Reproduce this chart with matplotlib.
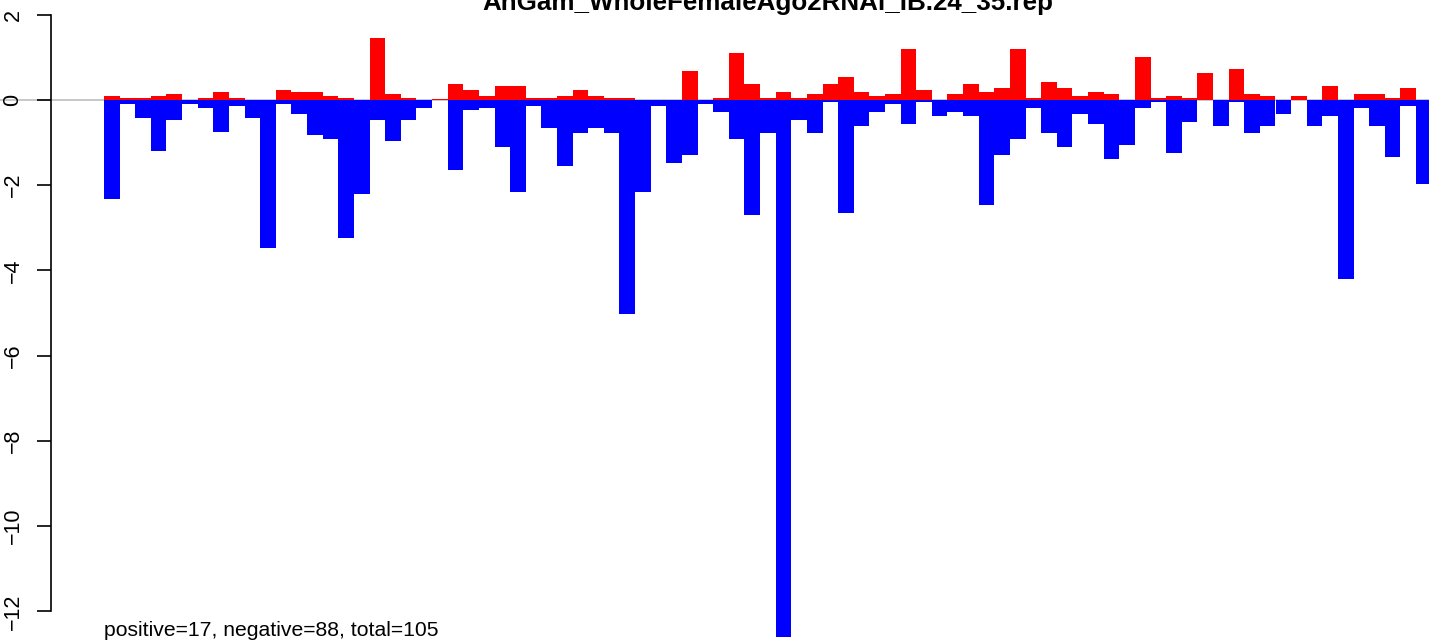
import matplotlib
matplotlib.use("Agg")
import matplotlib.pyplot as plt
import matplotlib.transforms as mtransforms

plt.rcParams['font.family'] = ['Liberation Sans', 'DejaVu Sans']

title = "AnGam_WholeFemaleAgo2RNAi_IB.24_35.rep"
note = "positive=17, negative=88, total=105"

# values, one per position
pos_vals = [0.09, 0.05, 0.05, 0.09, 0.14, 0, 0.05, 0.19, 0.05, 0, 0, 0.24, 0.19, 0.19, 0.09,
            0.05, 0, 1.46, 0.14, 0.05, 0, 0.03, 0.38, 0.24, 0.09, 0.33, 0.33, 0.05, 0.05, 0.09,
            0.24, 0.09, 0.05, 0.05, 0, 0, 0, 0.68, 0, 0.05, 1.11, 0.38, 0.05, 0.19, 0.05,
            0.14, 0.38, 0.54, 0.19, 0.09, 0.14, 1.20, 0.24, 0, 0.14, 0.38, 0.19, 0.28, 1.20, 0.05,
            0.42, 0.28, 0.09, 0.19, 0.14, 0, 1.01, 0.05, 0.09, 0.05, 0.64, 0, 0.73, 0.14, 0.09,
            0, 0.09, 0, 0.33, 0, 0.14, 0.14, 0.05, 0.28, 0]
neg_vals = [-2.33, -0.09, -0.42, -1.19, -0.46, -0.09, -0.18, -0.75, -0.13, -0.42, -3.47, -0.09, -0.32, -0.82, -0.91,
            -3.24, -2.20, -0.46, -0.96, -0.46, -0.18, -0.01, -1.64, -0.23, -0.18, -1.10, -2.16, -0.13, -0.65, -1.55,
            -0.77, -0.65, -0.77, -5.03, -2.16, -0.13, -1.47, -1.29, -0.09, -0.27, -0.91, -2.70, -0.77, -12.6, -0.46,
            -0.77, -0.04, -2.65, -0.60, -0.27, -0.09, -0.56, -0.04, -0.37, -0.27, -0.37, -2.46, -1.29, -0.91, -0.18,
            -0.77, -1.10, -0.32, -0.56, -1.38, -1.05, -0.18, -0.04, -1.24, -0.51, -0.01, -0.60, -0.04, -0.77, -0.60,
            -0.32, 0, -0.60, -0.37, -4.21, -0.18, -0.60, -1.33, -0.13, -1.97]
yticks = [2, 0, -2, -4, -6, -8, -10, -12]

W, H = 1429, 641
bar_px = 15.62      # pixels per bar
x0_px = 104         # left edge of first bar
unit_px = 42.62     # pixels per y unit
zero_px = 100       # y pixel of zero
axis_px = 51        # x pixel of y axis line

fig = plt.figure(figsize=(W / 100, H / 100), dpi=100)
ax = fig.add_axes([0, 0, 1, 1])
ax.set_xlim(-x0_px / bar_px, (W - x0_px) / bar_px)
ax.set_ylim(-(H - zero_px) / unit_px, zero_px / unit_px)

idx = list(range(len(pos_vals)))
ax.axhline(0, color='#BEBEBE', lw=1.2, zorder=0.5)
ax.bar(idx, pos_vals, width=1, align='edge', color='#FF0000', linewidth=0, zorder=2)
ax.bar(idx, neg_vals, width=1, align='edge', color='#0000FF', linewidth=0, zorder=2)

for s in ['top', 'right', 'bottom']:
    ax.spines[s].set_visible(False)
ax.spines['left'].set_position(('axes', axis_px / W))
ax.spines['left'].set_bounds(-12, 2)
ax.spines['left'].set_linewidth(1.2)
ax.set_xticks([])
ax.set_yticks(yticks)
ax.set_yticklabels([])
ax.tick_params(axis='y', length=10, width=1.2, direction='out')

trans = mtransforms.blended_transform_factory(ax.transAxes, ax.transData)
for t in yticks:
    ax.text(13 / W, t, str(t).replace('-', '\u2212'), transform=trans, rotation=90,
            ha='center', va='center', fontsize=15.5)

fig.text(768 / W, 1 - 10 / H, title, ha='center', va='baseline', fontsize=18.7, fontweight='bold')
fig.text(x0_px / W, 1 - 636 / H, note, ha='left', va='baseline', fontsize=15.2)

fig.savefig("out.png", dpi=100)
